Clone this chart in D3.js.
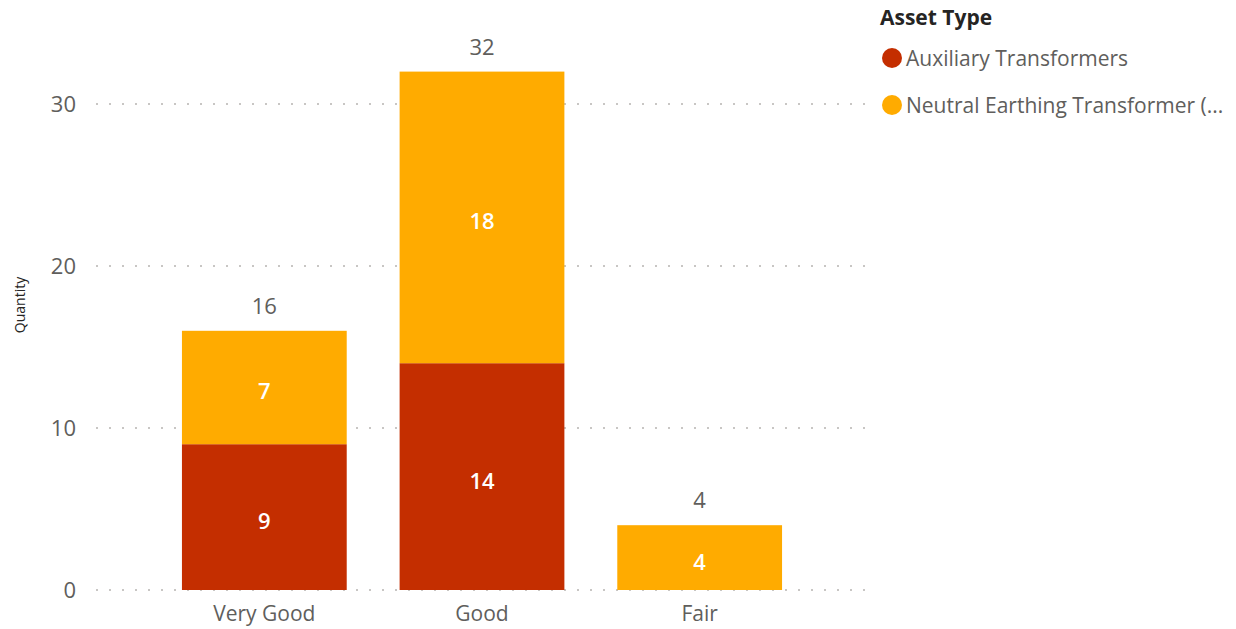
<!DOCTYPE html>
<html>
<head>
<meta charset="utf-8">
<script src="https://cdn.jsdelivr.net/npm/d3@7"></script>
<style>
  html, body { margin: 0; padding: 0; background: #fff; }
  svg { display: block; font-family: "Open Sans", "Noto Sans", sans-serif; }
</style>
</head>
<body>
<svg id="chart" width="1236" height="629"></svg>
<script>
// Condition categories and quantities per asset type
const categories = ["Very Good", "Good", "Fair"];
const seriesNames = ["Auxiliary Transformers", "Neutral Earthing Transformer (NET)"];
const legendLabels = ["Auxiliary Transformers", "Neutral Earthing Transformer (..."];
const auxiliary = [9, 14, 0];
const neutralEarthing = [7, 18, 4];
const yTicks = [0, 10, 20, 30];
const colors = ["#C42E00", "#FFAB00"];

const svg = d3.select("#chart");

const x = d3.scaleBand()
  .domain(categories)
  .range([155.5, 808.5])
  .paddingInner(0.243)
  .paddingOuter(0.1215);

const y = d3.scaleLinear()
  .domain([0, 30])
  .range([590, 104]);

// Stack data
const rows = categories.map((c, i) => ({ cat: c, s0: auxiliary[i], s1: neutralEarthing[i] }));
const stack = d3.stack().keys(["s0", "s1"]);
const layers = stack(rows);

// Gridlines (dotted)
const gridG = svg.append("g");
yTicks.forEach(t => {
  gridG.append("line")
    .attr("x1", 96).attr("x2", 870)
    .attr("y1", y(t)).attr("y2", y(t))
    .attr("stroke", "#C8C6C4")
    .attr("stroke-width", 2)
    .attr("stroke-dasharray", "2,11");
});

// Y axis tick labels
const yAxis = d3.axisLeft(y).tickValues(yTicks).tickSize(0).tickPadding(0);
const yG = svg.append("g").attr("transform", "translate(76,0)").call(yAxis);
yG.select(".domain").remove();
yG.selectAll("text")
  .attr("fill", "#605E5C")
  .style("font-size", "22px")
  .style("font-family", "'Open Sans', sans-serif");

// Y axis title
svg.append("text")
  .attr("transform", "translate(25,305) rotate(-90)")
  .attr("text-anchor", "middle")
  .attr("fill", "#252423")
  .style("font-size", "14px")
  .text("Quantity");

// X axis labels
const xAxis = d3.axisBottom(x).tickSize(0).tickPadding(0);
const xG = svg.append("g").attr("transform", "translate(0,606)").call(xAxis);
xG.select(".domain").remove();
xG.selectAll("text")
  .attr("fill", "#605E5C")
  .attr("dy", "0.71em")
  .style("font-size", "21px")
  .style("font-family", "'Open Sans', sans-serif");

// Bars
layers.forEach((layer, li) => {
  const g = svg.append("g");
  g.selectAll("rect")
    .data(layer.filter(d => d[1] - d[0] > 0))
    .join("rect")
    .attr("x", d => x(d.data.cat))
    .attr("width", x.bandwidth())
    .attr("y", d => y(d[1]))
    .attr("height", d => y(d[0]) - y(d[1]))
    .attr("fill", colors[li]);
  g.selectAll("text")
    .data(layer.filter(d => d[1] - d[0] > 0))
    .join("text")
    .attr("x", d => x(d.data.cat) + x.bandwidth() / 2)
    .attr("y", d => (y(d[0]) + y(d[1])) / 2 + 4)
    .attr("dy", "0.36em")
    .attr("text-anchor", "middle")
    .attr("fill", "#fff")
    .style("font-size", "22px")
    .style("font-weight", "600")
    .text(d => d[1] - d[0]);
});

// Totals above bars
svg.append("g").selectAll("text")
  .data(rows)
  .join("text")
  .attr("x", d => x(d.cat) + x.bandwidth() / 2)
  .attr("y", d => y(d.s0 + d.s1) - 17)
  .attr("text-anchor", "middle")
  .attr("fill", "#605E5C")
  .style("font-size", "22px")
  .text(d => d.s0 + d.s1);

// Legend
const legend = svg.append("g");
legend.append("text")
  .attr("x", 880).attr("y", 25)
  .attr("fill", "#252423")
  .style("font-size", "21px")
  .style("font-weight", "bold")
  .text("Asset Type");
legendLabels.forEach((lbl, i) => {
  const cy = 58 + i * 47;
  legend.append("circle")
    .attr("cx", 892).attr("cy", cy).attr("r", 10)
    .attr("fill", colors[i]);
  legend.append("text")
    .attr("x", 906).attr("y", cy)
    .attr("dy", "0.36em")
    .attr("fill", "#605E5C")
    .style("font-size", "21px")
    .text(lbl);
});
</script>
</body>
</html>
